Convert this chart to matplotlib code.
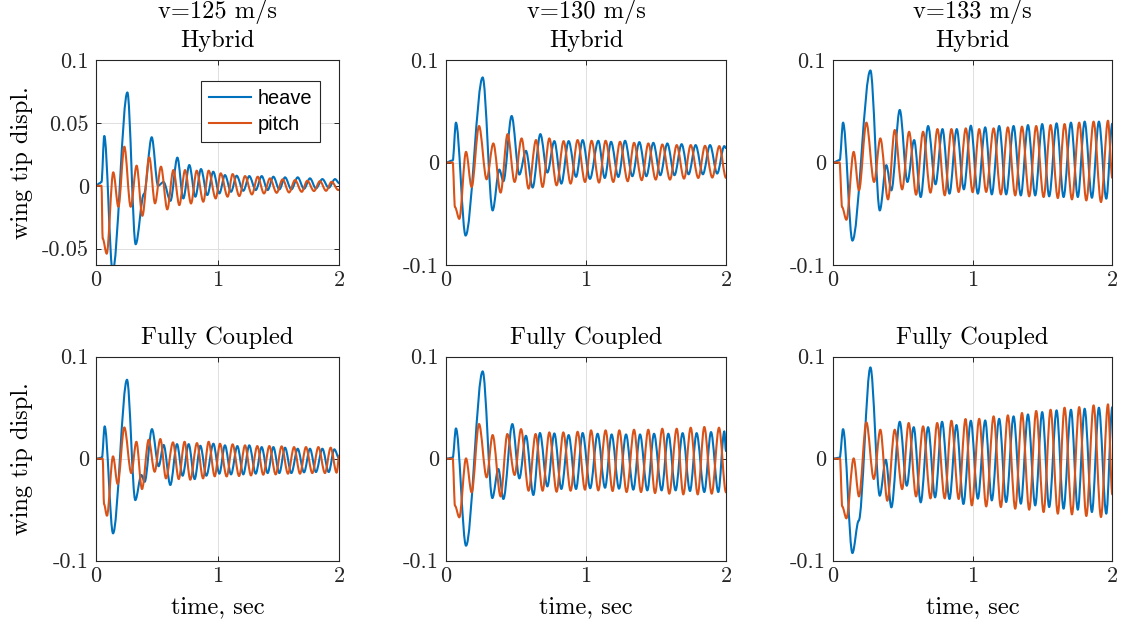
import matplotlib
matplotlib.use('Agg')
import matplotlib.pyplot as plt
from matplotlib.path import Path
from matplotlib.patches import PathPatch
from matplotlib.lines import Line2D

# ---- data (turning points of each trace, time in sec) ----
# v=125 m/s, hybrid
h125h_t = [0, 0.03, 0.045, 0.068, 0.137, 0.258, 0.326, 0.394, 0.458, 0.51,
           0.555, 0.612, 0.669, 0.718, 0.767, 0.817, 0.863, 0.915, 0.964, 1.014,
           1.060, 1.110, 1.156, 1.211, 1.260, 1.313, 1.362, 1.411, 1.458, 1.507,
           1.554, 1.606, 1.658, 1.710, 1.759, 1.808, 1.861, 1.913, 1.965, 2.0]
h125h = [0, 0.002, 0.003, 0.0396, -0.068, 0.0742, -0.0465, -0.0066, 0.0386, 0.0,
         0.003, -0.012, 0.0224, -0.0101, 0.0165, -0.0087, 0.0133, -0.0074, 0.0112, -0.0061,
         0.0085, -0.0048, 0.0080, -0.0040, 0.0077, -0.0034, 0.0077, -0.0034, 0.0072, -0.0029,
         0.0067, -0.0029, 0.0067, -0.0024, 0.0059, -0.0021, 0.0053, -0.0016, 0.0053, 0.002]
p125h_t = [0, 0.045, 0.055, 0.088, 0.142, 0.184, 0.233, 0.285, 0.334, 0.381,
           0.438, 0.485, 0.534, 0.586, 0.636, 0.685, 0.732, 0.781, 0.828, 0.882,
           0.926, 0.984, 1.025, 1.082, 1.123, 1.178, 1.225, 1.282, 1.329, 1.381,
           1.430, 1.485, 1.534, 1.587, 1.636, 1.691, 1.737, 1.792, 1.841, 1.891,
           1.937, 1.992, 2.0]
p125h = [0, 0, -0.042, -0.054, 0.0107, -0.0167, 0.0311, -0.0167, 0.016, -0.0239,
         0.0226, -0.014, 0.0152, -0.0188, 0.0125, -0.0154, 0.0125, -0.0141, 0.012, -0.0127,
         0.012, -0.0101, 0.0099, -0.0087, 0.0093, -0.0082, 0.0077, -0.0069, 0.0072, -0.0061,
         0.0059, -0.0056, 0.0051, -0.0053, 0.0045, -0.0048, 0.0040, -0.0042, 0.0037, -0.0040,
         0.0032, -0.0034, -0.003]

# v=130 m/s, hybrid
h130h_t = [0, 0.048, 0.071, 0.140, 0.262, 0.333, 0.381, 0.41, 0.469,
           0.524, 0.571, 0.619, 0.674, 0.724, 0.774, 0.824, 0.876, 0.929, 0.976,
           1.028, 1.088, 1.134, 1.179, 1.231, 1.279, 1.331, 1.381, 1.431, 1.481,
           1.531, 1.581, 1.632, 1.683, 1.733, 1.783, 1.835, 1.886, 1.937, 1.988, 2.0]
h130h = [0, 0.002, 0.0389, -0.0713, 0.083, -0.0468, -0.0069, -0.0183, 0.0454,
         -0.0118, 0.0114, -0.0245, 0.0277, -0.0098, 0.0209, -0.0206, 0.0209, -0.014, 0.0219,
         -0.016, 0.0212, -0.0151, 0.0202, -0.0141, 0.0212, -0.0134, 0.0199, -0.0134, 0.0192,
         -0.0124, 0.0186, -0.0124, 0.0179, -0.0115, 0.0170, -0.0115, 0.0170, -0.0108, 0.0160, 0.014]
p130h_t = [0, 0.048, 0.064, 0.095, 0.143, 0.183, 0.236, 0.29, 0.338, 0.39,
           0.44, 0.49, 0.54, 0.59, 0.643, 0.69, 0.738, 0.79, 0.84, 0.89,
           0.94, 0.993, 1.04, 1.093, 1.14, 1.195, 1.243, 1.298, 1.343, 1.398,
           1.445, 1.498, 1.545, 1.6, 1.648, 1.7, 1.748, 1.802, 1.85, 1.902, 1.952, 2.0]
p130h = [0, 0, -0.0435, -0.055, 0.0104, -0.0239, 0.0356, -0.0164, 0.0186, -0.0294,
         0.0277, -0.019, 0.0235, -0.0255, 0.0219, -0.0239, 0.0235, -0.0223, 0.0209, -0.0206,
         0.0219, -0.019, 0.0212, -0.0196, 0.0212, -0.019, 0.0202, -0.0183, 0.0192, -0.0173,
         0.0186, -0.0167, 0.0176, -0.0167, 0.0170, -0.0157, 0.0170, -0.0151, 0.0163, -0.0147,
         0.016, -0.015]

# v=133 m/s, hybrid
h133h_t = [0, 0.048, 0.072, 0.139, 0.268, 0.335, 0.382, 0.418, 0.478,
           0.533, 0.581, 0.628, 0.681, 0.734, 0.784, 0.834, 0.886, 0.937, 0.987,
           1.037, 1.09, 1.137, 1.19, 1.24, 1.293, 1.345, 1.396, 1.448, 1.498,
           1.548, 1.601, 1.651, 1.704, 1.753, 1.802, 1.854, 1.904, 1.957, 2.0]
h133h = [0, 0.0023, 0.0389, -0.0762, 0.0898, -0.0468, -0.0026, -0.0272, 0.0513,
         -0.019, 0.0219, -0.0337, 0.0356, -0.0213, 0.0326, -0.0304, 0.0326, -0.0262, 0.0359,
         -0.0304, 0.0343, -0.0311, 0.0356, -0.0311, 0.0356, -0.0321, 0.0365, -0.0321, 0.0375,
         -0.033, 0.0382, -0.0337, 0.0389, -0.0337, 0.0399, -0.0344, 0.0399, -0.0353, 0.038]
p133h_t = [0, 0.047, 0.065, 0.096, 0.148, 0.186, 0.239, 0.294, 0.339, 0.394,
           0.442, 0.495, 0.545, 0.595, 0.645, 0.698, 0.748, 0.8, 0.848, 0.9,
           0.951, 1.0, 1.047, 1.097, 1.15, 1.202, 1.252, 1.305, 1.353, 1.405,
           1.455, 1.508, 1.558, 1.61, 1.658, 1.711, 1.763, 1.814, 1.866, 1.919, 1.969, 2.0]
p133h = [0, 0, -0.0435, -0.0559, 0.0104, -0.0272, 0.0389, -0.019, 0.0235, -0.036,
         0.0317, -0.0262, 0.030, -0.0314, 0.030, -0.0294, 0.0326, -0.032, 0.0326, -0.0288,
         0.0333, -0.029, 0.0326, -0.0287, 0.0333, -0.0311, 0.0343, -0.0321, 0.035, -0.033,
         0.0356, -0.0337, 0.0365, -0.0347, 0.0375, -0.036, 0.0389, -0.037, 0.0399, -0.0386,
         0.0408, -0.015]

# v=125 m/s, fully coupled
h125f_t = [0, 0.049, 0.071, 0.14, 0.255, 0.323, 0.373, 0.4, 0.46,
           0.515, 0.556, 0.611, 0.666, 0.712, 0.762, 0.811, 0.858, 0.907, 0.965,
           1.014, 1.06, 1.11, 1.162, 1.211, 1.26, 1.313, 1.362, 1.411, 1.458,
           1.507, 1.554, 1.606, 1.658, 1.71, 1.759, 1.808, 1.861, 1.913, 1.959, 2.0]
h125f = [0, 0.001, 0.0317, -0.0732, 0.0774, -0.0406, -0.016, -0.0227, 0.029,
         -0.0074, 0.0135, -0.0258, 0.0143, -0.0167, 0.0143, -0.02, 0.0127, -0.0167, 0.0147,
         -0.0147, 0.0131, -0.0154, 0.0124, -0.0154, 0.0131, -0.0147, 0.0114, -0.0141, 0.0114,
         -0.0141, 0.0108, -0.0141, 0.0098, -0.0134, 0.0098, -0.0131, 0.0098, -0.0131, 0.0092, 0.0]
p125f_t = [0, 0.055, 0.066, 0.09, 0.14, 0.178, 0.233, 0.29, 0.332, 0.378,
           0.433, 0.482, 0.529, 0.575, 0.633, 0.68, 0.728, 0.775, 0.83, 0.88,
           0.926, 0.976, 1.019, 1.074, 1.123, 1.176, 1.225, 1.274, 1.326, 1.375,
           1.425, 1.477, 1.526, 1.578, 1.628, 1.677, 1.726, 1.778, 1.828, 1.882,
           1.929, 1.978, 2.0]
p125f = [0, 0, -0.0445, -0.0559, 0.0023, -0.0248, 0.0307, -0.0141, 0.0166, -0.0298,
         0.0186, -0.0128, 0.0193, -0.0193, 0.016, -0.02, 0.0166, -0.0206, 0.0153, -0.0193,
         0.0166, -0.0173, 0.0147, -0.0174, 0.0141, -0.017, 0.0131, -0.0164, 0.0124, -0.0157,
         0.0124, -0.0154, 0.0121, -0.0147, 0.0114, -0.0147, 0.0114, -0.0141, 0.0114, -0.0141,
         0.0108, -0.0137, 0.0033]

# v=130 m/s, fully coupled
h130f_t = [0, 0.048, 0.071, 0.143, 0.262, 0.331, 0.374, 0.41, 0.474,
           0.524, 0.571, 0.624, 0.671, 0.724, 0.774, 0.824, 0.876, 0.929, 0.976,
           1.03, 1.083, 1.136, 1.183, 1.236, 1.286, 1.338, 1.386, 1.438, 1.486,
           1.54, 1.588, 1.64, 1.69, 1.743, 1.79, 1.845, 1.893, 1.945, 1.988, 2.0]
h130f = [0, 0.001, 0.0297, -0.0853, 0.0856, -0.0386, -0.0101, -0.0395, 0.034,
         -0.0193, 0.0225, -0.0356, 0.0252, -0.0272, 0.0248, -0.0297, 0.0232, -0.0297, 0.0252,
         -0.029, 0.0245, -0.0285, 0.0238, -0.0294, 0.0238, -0.0304, 0.0238, -0.0311, 0.0245,
         -0.0311, 0.0245, -0.0311, 0.0251, -0.0317, 0.0251, -0.0327, 0.0261, -0.0327, 0.0268, 0.0075]
p130f_t = [0, 0.048, 0.064, 0.095, 0.143, 0.183, 0.236, 0.29, 0.333, 0.39,
           0.438, 0.49, 0.536, 0.59, 0.64, 0.69, 0.738, 0.79, 0.838, 0.89,
           0.94, 0.993, 1.036, 1.088, 1.14, 1.19, 1.238, 1.29, 1.343, 1.393,
           1.445, 1.493, 1.545, 1.595, 1.648, 1.695, 1.748, 1.798, 1.845, 1.898, 1.95, 2.0]
p130f = [0, 0, -0.0461, -0.0575, 0.0003, -0.033, 0.034, -0.0183, 0.0232, -0.037,
         0.0242, -0.016, 0.029, -0.0314, 0.0242, -0.0314, 0.0258, -0.0324, 0.0258, -0.0314,
         0.0264, -0.0304, 0.0278, -0.0311, 0.0278, -0.0317, 0.0278, -0.0327, 0.0284, -0.0327,
         0.0284, -0.0337, 0.0294, -0.0343, 0.0294, -0.035, 0.0304, -0.035, 0.0311, -0.0343,
         0.0304, -0.033]

# v=133 m/s, fully coupled
h133f_t = [0, 0.048, 0.072, 0.139, 0.184, 0.268, 0.335, 0.378, 0.418,
           0.478, 0.528, 0.578, 0.628, 0.681, 0.731, 0.781, 0.834, 0.884, 0.934,
           0.987, 1.037, 1.09, 1.137, 1.19, 1.24, 1.293, 1.345, 1.396, 1.448,
           1.498, 1.548, 1.601, 1.651, 1.704, 1.753, 1.802, 1.854, 1.904, 1.957, 2.0]
h133f = [0, 0.001, 0.029, -0.0925, -0.0608, 0.0895, -0.0363, -0.001, -0.0477,
         0.0362, -0.0265, 0.0309, -0.0428, 0.0309, -0.0379, 0.0362, -0.0395, 0.033, -0.0444,
         0.0372, -0.0392, 0.0375, -0.0409, 0.0391, -0.0425, 0.0415, -0.0441, 0.0434, -0.0458,
         0.0457, -0.0474, 0.0474, -0.049, 0.048, -0.05, 0.049, -0.0523, 0.05, -0.0539, 0.0506]
p133f_t = [0, 0.05, 0.066, 0.096, 0.148, 0.186, 0.239, 0.292, 0.339, 0.389,
           0.442, 0.495, 0.542, 0.595, 0.645, 0.698, 0.746, 0.8, 0.848, 0.9,
           0.949, 0.994, 1.047, 1.097, 1.15, 1.202, 1.252, 1.305, 1.353, 1.405,
           1.455, 1.508, 1.558, 1.61, 1.658, 1.711, 1.763, 1.814, 1.866, 1.919, 1.969, 2.0]
p133f = [0, 0, -0.0468, -0.0585, 0.0003, -0.037, 0.0356, -0.0199, 0.0284, -0.0412,
         0.0284, -0.0298, 0.035, -0.037, 0.0317, -0.0389, 0.035, -0.0389, 0.0372, -0.0395,
         0.0389, -0.0458, 0.0391, -0.0468, 0.0415, -0.0474, 0.0425, -0.049, 0.0448, -0.05,
         0.0468, -0.0523, 0.048, -0.0539, 0.05, -0.0546, 0.0506, -0.0562, 0.0523, -0.0572,
         0.0533, -0.035]

titles = ['v=125 m/s\nHybrid', 'v=130 m/s\nHybrid', 'v=133 m/s\nHybrid',
          'Fully Coupled', 'Fully Coupled', 'Fully Coupled']
series = [(h125h_t, h125h, p125h_t, p125h), (h130h_t, h130h, p130h_t, p130h),
          (h133h_t, h133h, p133h_t, p133h), (h125f_t, h125f, p125f_t, p125f),
          (h130f_t, h130f, p130f_t, p130f), (h133f_t, h133f, p133f_t, p133f)]
xticks = [0, 1, 2]
yticks_first = [-0.05, 0, 0.05, 0.1]
ylabels_first = ['-0.05', '0', '0.05', '0.1']
yticks = [-0.1, 0, 0.1]
ylabels = ['-0.1', '0', '0.1']

blue = '#0072BD'
orange = '#D95319'
dark = '#262626'
lw = 1.5


def add_trace(ax, t, y, color):
    # the points are turning points, so join them with curves that leave
    # and arrive flat (bezier handles at a third of each gap)
    verts = [(t[0], y[0])]
    codes = [Path.MOVETO]
    for i in range(len(t) - 1):
        d = (t[i + 1] - t[i]) / 3
        verts += [(t[i] + d, y[i]), (t[i + 1] - d, y[i + 1]), (t[i + 1], y[i + 1])]
        codes += [Path.CURVE4] * 3
    ax.add_patch(PathPatch(Path(verts, codes), fill=False, edgecolor=color,
                           lw=lw, joinstyle='round', capstyle='round'))


plt.rcParams['font.family'] = ['cmr10', 'DejaVu Serif']
plt.rcParams['axes.unicode_minus'] = False

W, H = 1123, 629
fig = plt.figure(figsize=(W / 100, H / 100), dpi=100)

# axes boxes in pixels
cols = [(96, 339.3), (446, 726), (833, 1112.3)]
rows = [(60, 265), (356.7, 560.7)]

for k in range(6):
    r, c = divmod(k, 3)
    left, right = cols[c]
    top, bottom = rows[r]
    ax = fig.add_axes([left / W, 1 - bottom / H, (right - left) / W, (bottom - top) / H])
    ht, hy, pt, py = series[k]
    add_trace(ax, ht, hy, blue)
    add_trace(ax, pt, py, orange)
    ax.set_xlim(0, 2)
    if k == 0:
        ax.set_ylim(-0.063, 0.1)
        ax.set_yticks(yticks_first)
        ax.set_yticklabels(ylabels_first)
    else:
        ax.set_ylim(-0.1, 0.1)
        ax.set_yticks(yticks)
        ax.set_yticklabels(ylabels)
    ax.set_xticks(xticks)
    ax.set_xticklabels([str(v) for v in xticks])
    ax.grid(True, color='#dedede', lw=0.7)
    ax.set_axisbelow(True)
    for s in ax.spines.values():
        s.set_color(dark)
        s.set_linewidth(0.8)
    ax.tick_params(direction='in', length=3.5, width=0.7, colors=dark,
                   labelsize=16, top=True, right=True, pad=5)
    ax.tick_params(axis='x', pad=4)
    ax.set_title(titles[k], fontsize=17.6, color='black',
                 pad=9.2 if r == 0 else 9.3, linespacing=1.35)
    if c == 0:
        ax.set_ylabel('wing tip displ.', fontsize=17.6, color='black')
        ax.yaxis.set_label_coords((33 - left) / (right - left), 0.5)
    if r == 1:
        ax.set_xlabel('time, sec', fontsize=17.6, color='black')
        ax.xaxis.set_label_coords(0.5, -(596 - bottom) / (bottom - top))
    if k == 0:
        handles = [Line2D([], [], color=blue, lw=lw), Line2D([], [], color=orange, lw=lw)]
        leg = ax.legend(handles, ['heave', 'pitch'], loc='upper right',
                        bbox_to_anchor=(0.921, 0.899), borderaxespad=0,
                        fancybox=False, framealpha=1, edgecolor=dark,
                        handlelength=2.1, handletextpad=0.35, borderpad=0.4,
                        labelspacing=0.35,
                        prop={'family': 'Liberation Sans', 'size': 14.4})
        leg.get_frame().set_linewidth(0.8)

fig.savefig('out.png', dpi=100)
